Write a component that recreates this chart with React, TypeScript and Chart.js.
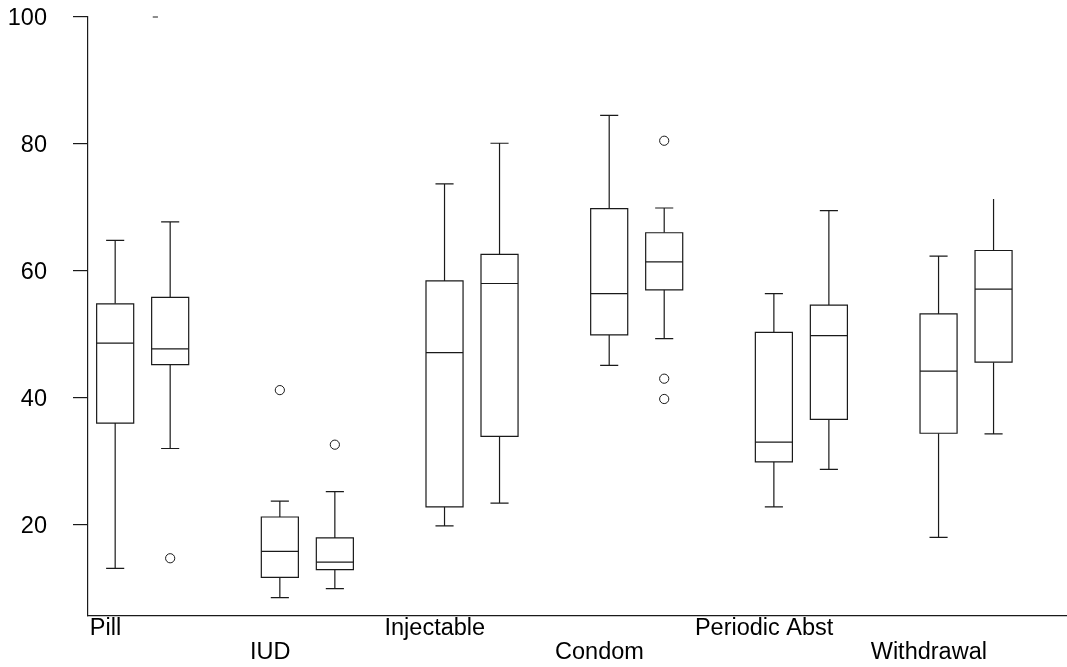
import React, { useEffect, useRef } from 'react';
import { Chart, registerables } from 'chart.js';

Chart.register(...registerables);

// ---- Data ----
const categories = ['Pill', 'IUD', 'Injectable', 'Condom', 'Periodic Abst', 'Withdrawal'];
const yTickValues = [20, 40, 60, 80, 100];

// First box of each category
const low1 = [13.1, 8.5, 19.8, 45.1, 22.8, 18.0];
const q1a = [36.0, 11.7, 22.8, 49.9, 29.9, 34.4];
const med1 = [48.6, 15.8, 47.1, 56.4, 33.0, 44.2];
const q3a = [54.8, 21.2, 58.4, 69.8, 50.3, 53.2];
const high1 = [64.8, 23.7, 73.7, 84.5, 56.4, 62.3];

// Second box of each category
const low2 = [32.0, 9.9, 23.4, 49.3, 28.7, 34.3];
const q1b = [45.2, 12.9, 33.9, 57.0, 36.6, 45.6];
const med2 = [47.7, 14.1, 58.0, 61.4, 49.8, 57.1];
const q3b = [55.8, 17.9, 62.6, 66.0, 54.6, 63.2];
const high2 = [67.7, 25.2, 80.1, 69.9, 69.5, 71.3];

// Outliers (category index, value)
const outlierCat1 = [1];
const outlierVal1 = [41.2];
const outlierCat2 = [0, 1, 3, 3, 3];
const outlierVal2 = [14.7, 32.6, 80.5, 43.0, 39.8];
const extremeCat2 = [0];
const extremeVal2 = [100];

// ---- Layout constants ----
const OFF1 = -0.167;
const OFF2 = 0.167;
const BOX_W = 0.225;
const CAP_W = 0.11;
const LABEL_OFF = -0.226;
const EXTREME_OFF = -0.09;
const FONT = '"Liberation Sans", Arial, Helvetica, sans-serif';

const boxPlugin = {
  id: 'boxDraw',
  beforeDatasetsDraw(chart: any) {
    const { ctx, scales } = chart;
    const xs = scales.x;
    const ys = scales.y;
    const groups = [
      { off: OFF1, lo: low1, q1: q1a, md: med1, q3: q3a, hi: high1 },
      { off: OFF2, lo: low2, q1: q1b, md: med2, q3: q3b, hi: high2 },
    ];
    ctx.save();
    ctx.strokeStyle = '#1a1a1a';
    ctx.lineWidth = 1.2;
    ctx.fillStyle = '#ffffff';
    groups.forEach((g, gi) => {
      categories.forEach((_, i) => {
        const xc = xs.getPixelForValue(i + g.off);
        const hw = xs.getPixelForValue(i + g.off + BOX_W / 2) - xc;
        const cw = xs.getPixelForValue(i + g.off + CAP_W / 2) - xc;
        const yLo = ys.getPixelForValue(g.lo[i]);
        const yQ1 = ys.getPixelForValue(g.q1[i]);
        const yMd = ys.getPixelForValue(g.md[i]);
        const yQ3 = ys.getPixelForValue(g.q3[i]);
        const yHi = ys.getPixelForValue(g.hi[i]);
        ctx.beginPath();
        // whiskers
        ctx.moveTo(xc, yQ1);
        ctx.lineTo(xc, yLo);
        ctx.moveTo(xc - cw, yLo);
        ctx.lineTo(xc + cw, yLo);
        ctx.moveTo(xc, yQ3);
        ctx.lineTo(xc, yHi);
        const skipTopCap = gi === 1 && i === categories.length - 1;
        if (!skipTopCap) {
          ctx.moveTo(xc - cw, yHi);
          ctx.lineTo(xc + cw, yHi);
        }
        ctx.stroke();
        // box
        ctx.beginPath();
        ctx.rect(xc - hw, yQ3, hw * 2, yQ1 - yQ3);
        ctx.fill();
        ctx.stroke();
        // median
        ctx.beginPath();
        ctx.moveTo(xc - hw, yMd);
        ctx.lineTo(xc + hw, yMd);
        ctx.stroke();
      });
    });
    ctx.restore();
  },
};

export default function App() {
  const ref = useRef<HTMLCanvasElement | null>(null);

  useEffect(() => {
    if (!ref.current) return;
    const outliers1 = outlierCat1.map((c, k) => ({ x: c + OFF1, y: outlierVal1[k] }));
    const outliers2 = outlierCat2.map((c, k) => ({ x: c + OFF2, y: outlierVal2[k] }));
    const extremes2 = extremeCat2.map((c, k) => ({ x: c + OFF2 + EXTREME_OFF, y: extremeVal2[k] }));

    const chart = new Chart(ref.current, {
      type: 'scatter',
      data: {
        datasets: [
          {
            data: outliers1,
            pointStyle: 'circle',
            pointRadius: 4.6,
            pointBorderWidth: 1,
            pointBorderColor: '#1a1a1a',
            pointBackgroundColor: '#ffffff',
            clip: false,
          },
          {
            data: outliers2,
            pointStyle: 'circle',
            pointRadius: 4.6,
            pointBorderWidth: 1,
            pointBorderColor: '#1a1a1a',
            pointBackgroundColor: '#ffffff',
            clip: false,
          },
          {
            data: extremes2,
            pointStyle: 'line',
            pointRadius: 2.6,
            pointBorderWidth: 1,
            pointBorderColor: '#1a1a1a',
            clip: false,
          },
        ],
      },
      options: {
        animation: false,
        responsive: false,
        devicePixelRatio: 1,
        layout: { autoPadding: false, padding: { top: 17, left: 0, right: 0, bottom: 0 } },
        plugins: {
          legend: { display: false },
          tooltip: { enabled: false },
        },
        scales: {
          x: {
            type: 'linear',
            min: -0.332,
            max: 5.613,
            grid: { display: false, drawTicks: false },
            border: { display: true, color: '#1a1a1a', width: 1.2 },
            afterBuildTicks: (scale: any) => {
              scale.ticks = categories.map((_, i) => ({ value: i + LABEL_OFF }));
            },
            afterFit: (scale: any) => {
              scale.height = 51;
              scale.paddingLeft = 0;
              scale.paddingRight = 0;
            },
            ticks: {
              autoSkip: false,
              maxRotation: 0,
              minRotation: 0,
              padding: 1,
              color: '#000000',
              font: { family: FONT, size: 23.5, lineHeight: 1.0 },
              callback: (_v: any, index: number) =>
                index % 2 === 1 ? ['', categories[index]] : categories[index],
            },
          },
          y: {
            type: 'linear',
            min: 5.6,
            max: 100,
            grid: {
              display: true,
              drawOnChartArea: false,
              drawTicks: true,
              tickLength: 15,
              color: '#1a1a1a',
              lineWidth: 1.2,
            },
            border: { display: true, color: '#1a1a1a', width: 1.2 },
            afterBuildTicks: (scale: any) => {
              scale.ticks = yTickValues.map((v) => ({ value: v }));
            },
            afterFit: (scale: any) => {
              scale.width = 88;
              scale.paddingTop = 0;
              scale.paddingBottom = 0;
            },
            ticks: {
              padding: 26,
              labelOffset: 2,
              color: '#000000',
              font: { family: FONT, size: 23.5 },
              callback: (v: any) => String(v),
            },
          },
        },
      },
      plugins: [boxPlugin],
    });
    return () => chart.destroy();
  }, []);

  return (
    <div style={{ position: 'fixed', left: 0, top: 0, width: 1067, height: 667, background: '#fff' }}>
      <canvas ref={ref} width={1067} height={667} style={{ display: 'block' }} />
    </div>
  );
}
